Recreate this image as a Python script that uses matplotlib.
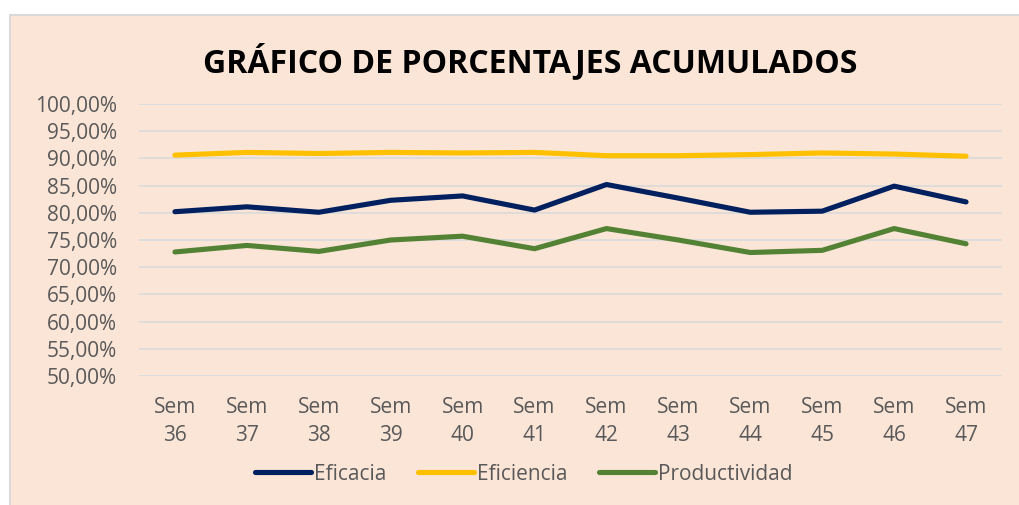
import matplotlib.pyplot as plt
from matplotlib.patches import Rectangle
from matplotlib.ticker import FuncFormatter

semanas = ["Sem\n36", "Sem\n37", "Sem\n38", "Sem\n39", "Sem\n40", "Sem\n41",
           "Sem\n42", "Sem\n43", "Sem\n44", "Sem\n45", "Sem\n46", "Sem\n47"]
eficacia = [80.2, 81.1, 80.1, 82.3, 83.1, 80.5, 85.2, 82.7, 80.1, 80.3, 84.9, 82.0]
eficiencia = [90.6, 91.1, 90.9, 91.1, 91.0, 91.1, 90.5, 90.5, 90.7, 91.0, 90.8, 90.4]
productividad = [72.8, 74.0, 72.9, 75.0, 75.7, 73.4, 77.1, 75.0, 72.7, 73.1, 77.1, 74.3]

W, H = 1019, 505
bg = "#FBE5D6"
txt = "#595959"

fig = plt.figure(figsize=(W / 100, H / 100), dpi=100, facecolor="white")
fig.patches.append(Rectangle((9.5 / W, -0.01), 1.0, (H - 15) / H + 0.01,
                             transform=fig.transFigure, facecolor=bg,
                             edgecolor="#D9D9D9", linewidth=1.5, zorder=-10))

ax = fig.add_axes([139 / W, (H - 376) / H, (1002 - 139) / W, (376 - 104) / H])
ax.patch.set_visible(False)

x = list(range(len(semanas)))
ax.plot(x, eficacia, color="#002060", lw=3.7, label="Eficacia", solid_capstyle="round")
ax.plot(x, eficiencia, color="#FFC000", lw=3.7, label="Eficiencia", solid_capstyle="round")
ax.plot(x, productividad, color="#548235", lw=3.7, label="Productividad", solid_capstyle="round")

ax.set_ylim(50, 100)
ax.set_yticks(range(50, 101, 5))
ax.yaxis.set_major_formatter(FuncFormatter(lambda v, p: f"{v:.2f}%".replace(".", ",")))
ax.set_xlim(-0.5, len(semanas) - 0.5)
ax.set_xticks(x)
ax.set_xticklabels(semanas, linespacing=1.45)
ax.grid(axis="y", color="#D9D9D9", lw=1.2)
ax.set_axisbelow(True)
for s in ax.spines.values():
    s.set_visible(False)
ax.tick_params(length=0, labelsize=15, colors=txt)
ax.tick_params(axis="y", pad=16)
ax.tick_params(axis="x", pad=15)
for lab in ax.get_xticklabels() + ax.get_yticklabels():
    lab.set_family("Open Sans")

fig.text(530 / W, (H - 62) / H, "GRÁFICO DE PORCENTAJES ACUMULADOS",
         ha="center", va="center", fontsize=23, fontweight="bold",
         family="Open Sans", color="black")

leg = fig.legend(loc="center", bbox_to_anchor=(524 / W, (H - 474) / H), ncol=3,
                 frameon=False, handlelength=2.7, handletextpad=0.15,
                 columnspacing=1.5, prop={"family": "Open Sans", "size": 15})
for t in leg.get_texts():
    t.set_color(txt)

fig.savefig("out.png", dpi=100, facecolor="white")
